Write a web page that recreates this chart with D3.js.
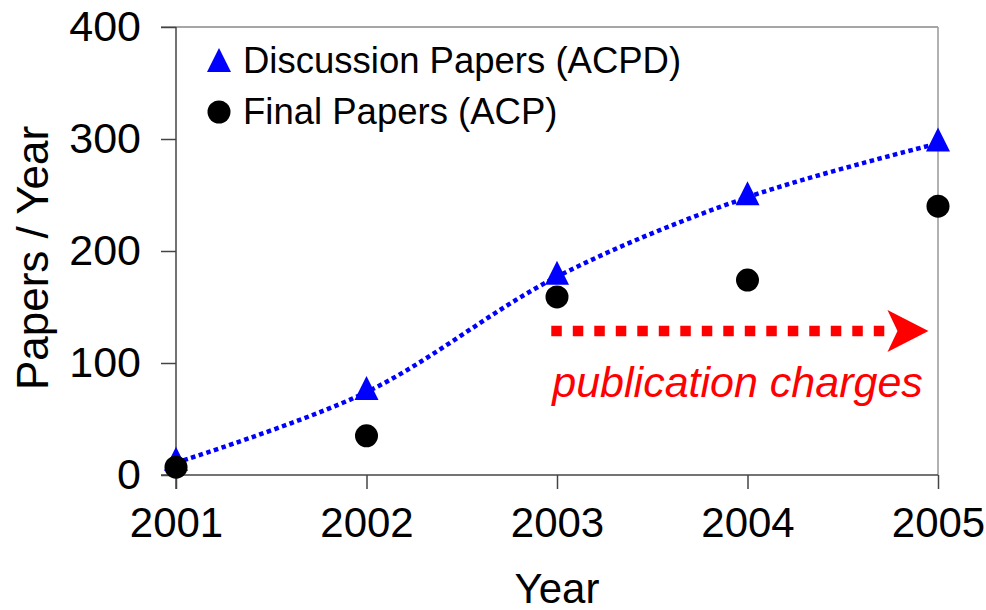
<!DOCTYPE html>
<html>
<head>
<meta charset="utf-8">
<script src="https://cdn.jsdelivr.net/npm/d3@7"></script>
<style>
  body { margin: 0; background: #fff; }
  text { font-family: "Liberation Sans", Arial, sans-serif; }
</style>
</head>
<body>
<div id="chart"></div>
<script>
var years = [2001, 2002, 2003, 2004, 2005];
var discussionPapers = [11, 74, 177, 248, 296];   // ACPD
var finalPapers = [7, 35, 159, 174, 240];         // ACP
var yTicks = [0, 100, 200, 300, 400];
var chargesFrom = 2002.97, chargesTo = 2004.95, chargesLevel = 128.5;

var width = 986, height = 610;
var x = d3.scaleLinear().domain([2001, 2005]).range([176, 938]);
var y = d3.scaleLinear().domain([0, 400]).range([475, 27]);

var svg = d3.select("#chart").append("svg")
    .attr("width", width)
    .attr("height", height);

// frame: top and right in light gray
svg.append("line").attr("x1", 161).attr("x2", x(2005)).attr("y1", y(400)).attr("y2", y(400))
    .attr("stroke", "#888").attr("stroke-width", 1.5);
svg.append("line").attr("x1", x(2005)).attr("x2", x(2005)).attr("y1", y(400)).attr("y2", y(0))
    .attr("stroke", "#999").attr("stroke-width", 1.5);

// y axis
var yAxis = d3.axisLeft(y).tickValues(yTicks).tickSize(15).tickPadding(20);
var gy = svg.append("g").attr("transform", "translate(" + x(2001) + ",0)").call(yAxis);
gy.select(".domain").remove();
gy.append("line").attr("y1", y(0) + 14).attr("y2", y(400)).attr("stroke", "#444").attr("stroke-width", 1.5);
gy.selectAll(".tick line").attr("stroke", "#444").attr("stroke-width", 1.5);
gy.selectAll(".tick text").attr("fill", "#000").style("font-size", "43px")
    .attr("font-family", "Liberation Sans, Arial, sans-serif");

// x axis
var xAxis = d3.axisBottom(x).tickValues(years).tickFormat(d3.format("d")).tickSize(14).tickPadding(18);
var gx = svg.append("g").attr("transform", "translate(0," + y(0) + ")").call(xAxis);
gx.select(".domain").remove();
gx.append("line").attr("x1", 161).attr("x2", x(2005)).attr("stroke", "#444").attr("stroke-width", 1.5);
gx.selectAll(".tick line").attr("stroke", "#444").attr("stroke-width", 1.5);
gx.selectAll(".tick text").attr("fill", "#000").style("font-size", "42px")
    .attr("font-family", "Liberation Sans, Arial, sans-serif");

// axis titles
svg.append("text")
    .attr("transform", "translate(48,258) rotate(-90)")
    .attr("text-anchor", "middle")
    .style("font-size", "44px")
    .text("Papers / Year");

svg.append("text")
    .attr("x", x(2003)).attr("y", 603)
    .attr("text-anchor", "middle")
    .style("font-size", "42px")
    .text("Year");

// smoothed ACPD line
var line = d3.line()
    .x(function(d, i) { return x(years[i]); })
    .y(function(d) { return y(d); })
    .curve(d3.curveCatmullRom);

svg.append("path")
    .datum(discussionPapers)
    .attr("d", line)
    .attr("fill", "none")
    .attr("stroke", "#0000ff")
    .attr("stroke-width", 4.5)
    .attr("stroke-dasharray", "4.5,3.5");

// triangle marker path, centred on its centroid
function tri(cx, cy) {
  return "M" + cx + "," + (cy - 16) + "L" + (cx + 12) + "," + (cy + 8) + "L" + (cx - 12) + "," + (cy + 8) + "Z";
}

svg.selectAll(".acpd")
    .data(discussionPapers)
    .enter().append("path")
    .attr("class", "acpd")
    .attr("d", function(d, i) { return tri(x(years[i]), y(d)); })
    .attr("fill", "#0000ff");

svg.selectAll(".acp")
    .data(finalPapers)
    .enter().append("circle")
    .attr("class", "acp")
    .attr("cx", function(d, i) { return x(years[i]); })
    .attr("cy", function(d) { return y(d); })
    .attr("r", 11.5)
    .attr("fill", "#000");

// publication charges arrow
var ay = y(chargesLevel), tipX = x(chargesTo);
svg.append("line")
    .attr("x1", x(chargesFrom)).attr("x2", tipX - 41)
    .attr("y1", ay).attr("y2", ay)
    .attr("stroke", "#ff0000")
    .attr("stroke-width", 10.5)
    .attr("stroke-dasharray", "10.5,11");
svg.append("path")
    .attr("d", "M" + tipX + "," + ay +
      "L" + (tipX - 41) + "," + (ay - 21) +
      "L" + (tipX - 31) + "," + ay +
      "L" + (tipX - 41) + "," + (ay + 21) + "Z")
    .attr("fill", "#ff0000");

svg.append("text")
    .attr("x", x(chargesFrom) + 1).attr("y", 397)
    .attr("fill", "#ff0000")
    .style("font-size", "43px")
    .style("font-style", "italic")
    .text("publication charges");

// legend
var legend = svg.append("g");
legend.append("path").attr("d", tri(219, 64)).attr("fill", "#0000ff");
legend.append("circle").attr("cx", 219).attr("cy", 112).attr("r", 11.5).attr("fill", "#000");
legend.append("text").attr("x", 243).attr("y", 73).style("font-size", "36.5px").text("Discussion Papers (ACPD)");
legend.append("text").attr("x", 243).attr("y", 124).style("font-size", "36.5px").text("Final Papers (ACP)");
</script>
</body>
</html>
